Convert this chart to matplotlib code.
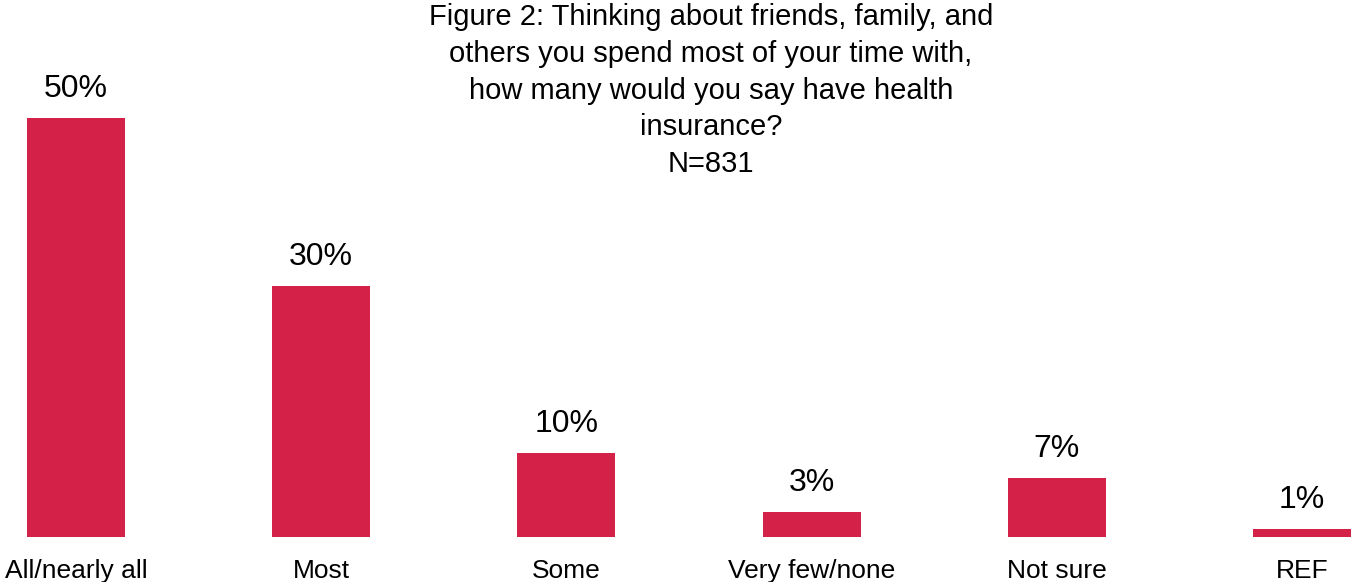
import matplotlib.pyplot as plt
import numpy as np

plt.rcParams["font.family"] = ["Liberation Sans", "DejaVu Sans"]

# Survey responses (percent of respondents)
categories = ["All/nearly all", "Most", "Some", "Very few/none", "Not sure", "REF"]
percents = [50, 30, 10, 3, 7, 1]
title = ("Figure 2: Thinking about friends, family, and\n"
         "others you spend most of your time with,\n"
         "how many would you say have health\n"
         "insurance?\n"
         "N=831")

bar_color = "#D42147"

fig = plt.figure(figsize=(13.52, 5.82), dpi=100)
ax = fig.add_axes([0, 45 / 582, 1, 537 / 582])

x = np.arange(len(categories))
bars = ax.bar(x, percents, width=0.4, color=bar_color)

for rect, val in zip(bars, percents):
    ax.annotate(f"{val}%", (rect.get_x() + rect.get_width() / 2, rect.get_height()),
                xytext=(0, 10), textcoords="offset points",
                ha="center", va="bottom", fontsize=23)

ax.set_xlim(-76 / 245.2, (1352 - 76) / 245.2)
ax.set_ylim(0, 537 / 8.38)
ax.set_xticks(x)
ax.set_xticklabels(categories, fontsize=19)
ax.tick_params(axis="x", length=0, pad=16)
ax.set_yticks([])
for side in ax.spines.values():
    side.set_visible(False)

fig.text(711 / 1352, 1 - 3 / 582, title, ha="center", va="top", fontsize=21,
         linespacing=1.4)

fig.savefig("out.png", dpi=100)
